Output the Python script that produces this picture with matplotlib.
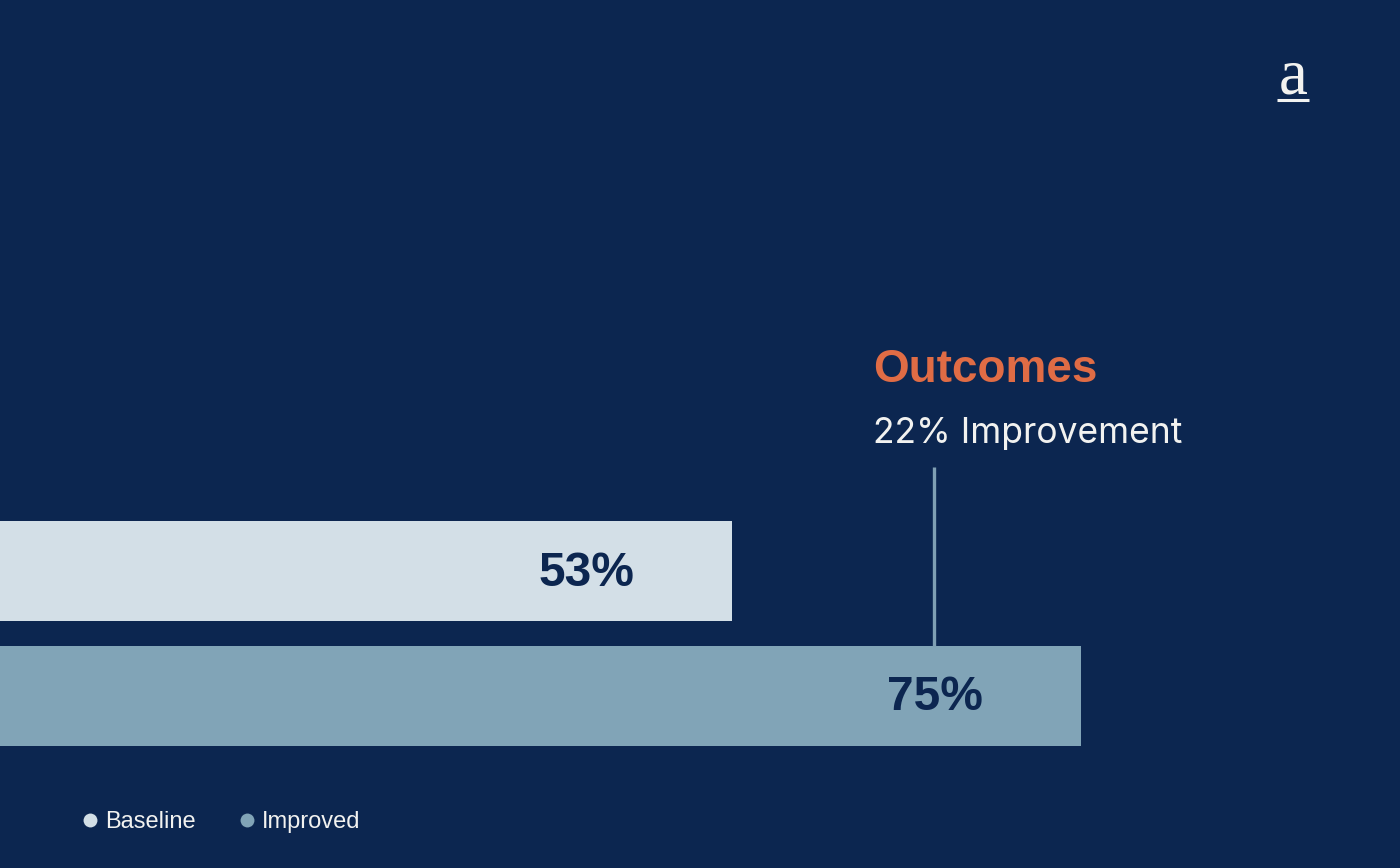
import matplotlib
matplotlib.use("Agg")
import matplotlib.pyplot as plt
from matplotlib.lines import Line2D

categories = ["Baseline", "Improved"]
values = [53, 75]
value_labels = ["53%", "75%"]
title_text = "Outcomes"
subtitle_text = "22% Improvement"

BG = "#0c2650"
BAR_COLORS = ["#d3dfe7", "#81a4b7"]
ORANGE = "#e06c45"
WHITE = "#f2f2f0"
LINE_C = "#7f9fb3"

W, H = 1400, 868
DPI = 100
fig = plt.figure(figsize=(W / DPI, H / DPI), dpi=DPI, facecolor=BG)
ax = fig.add_axes([0, 0, 1, 1], facecolor=BG)

plt.rcParams['font.family'] = ['Liberation Sans', 'DejaVu Sans']
REG = ['Inter', 'Liberation Sans', 'DejaVu Sans']

# scales: px per unit
kx = 15.82
x0_px = -106.0
ky = 125.0
y0_px = 571.0
ax.set_xlim(-x0_px / kx, (W - x0_px) / kx)
ax.set_ylim((H - y0_px) / ky, -y0_px / ky)
ax.axis("off")

ypos = list(range(len(categories)))
ax.barh(ypos, values, height=100 / ky, color=BAR_COLORS, left=0)

for y, v, lab in zip(ypos, values, value_labels):
    ax.annotate(lab, xy=(v, y), xytext=(-98 * 72 / DPI, -2 * 72 / DPI), textcoords="offset points",
                ha="right", va="center", fontsize=34.5, fontweight="bold", color=BG,
                family=['Liberation Sans', 'DejaVu Sans'])

# connector line from improved label centre upward
xl = values[1] - 146 / kx
ytop_bar = ypos[1] - 0.5 * 100 / ky
ax.plot([xl, xl], [ytop_bar, ytop_bar - 179 / ky], color=LINE_C, lw=2.4, solid_capstyle="butt")

fig.text(873 / W, 1 - 382 / H, title_text, ha="left", va="baseline", fontsize=33,
         fontweight="bold", color=ORANGE)
fig.text(873 / W, 1 - 443 / H, subtitle_text, ha="left", va="baseline", fontsize=25.5,
         color=WHITE, family=REG)

# logo
fig.text(1293 / W, 1 - 94 / H, "a", ha="center", va="baseline", fontsize=47,
         color=WHITE, family=['Liberation Serif', 'DejaVu Serif'])
fig.add_artist(Line2D([1277 / W, 1309 / W], [1 - 100 / H, 1 - 100 / H], color=WHITE,
                      lw=2.2, transform=fig.transFigure, solid_capstyle="butt"))

handles = [Line2D([], [], marker="o", ls="none", markersize=10, color=c,
                  markeredgewidth=0) for c in BAR_COLORS]
leg = fig.legend(handles, categories, loc="center left",
                 bbox_to_anchor=(80.6 / W, 1 - 822 / H), ncol=2, frameon=False,
                 fontsize=17, handlelength=0.8, handletextpad=0.23, columnspacing=1.8,
                 borderpad=0, borderaxespad=0)
for t in leg.get_texts():
    t.set_color(WHITE)

fig.savefig("out.png", dpi=DPI, facecolor=BG)
